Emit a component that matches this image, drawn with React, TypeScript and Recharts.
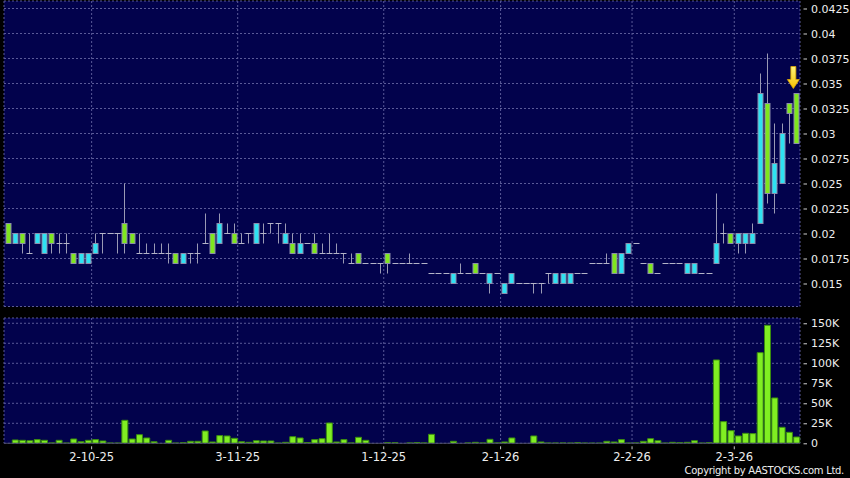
import React from "react";
import {
  ComposedChart, BarChart, Bar, XAxis, YAxis, CartesianGrid, ReferenceDot
} from "recharts";

// daily candles, oldest first (HK$)
const opens = [
  0.021, 0.019, 0.020, 0.018, 0.019, 0.018, 0.020, 0.019, 0.019, 0.018,
  0.017, 0.017, 0.018, 0.020, 0.020, 0.020, 0.021, 0.020, 0.018, 0.018,
  0.018, 0.018, 0.018, 0.018, 0.017, 0.018, 0.018, 0.019, 0.020, 0.019,
  0.020, 0.020, 0.019, 0.020, 0.019, 0.020, 0.021, 0.021, 0.019, 0.019,
  0.018, 0.019, 0.019, 0.018, 0.018, 0.018, 0.018, 0.017, 0.018, 0.017,
  0.017, 0.017, 0.018, 0.017, 0.017, 0.017, 0.017, 0.017, 0.016, 0.016,
  0.016, 0.015, 0.016, 0.016, 0.017, 0.016, 0.015, 0.016, 0.014, 0.015,
  0.015, 0.015, 0.015, 0.015, 0.016, 0.015, 0.015, 0.015, 0.016, 0.016,
  0.017, 0.017, 0.017, 0.018, 0.016, 0.018, 0.019, 0.017, 0.017, 0.016,
  0.017, 0.017, 0.017, 0.016, 0.016, 0.016, 0.016, 0.017, 0.020, 0.020,
  0.019, 0.019, 0.019, 0.021, 0.033, 0.024, 0.025, 0.033, 0.034,
];
const closes = [
  0.019, 0.020, 0.019, 0.018, 0.020, 0.020, 0.019, 0.019, 0.019, 0.017,
  0.018, 0.018, 0.019, 0.020, 0.020, 0.020, 0.019, 0.019, 0.018, 0.018,
  0.018, 0.018, 0.018, 0.017, 0.018, 0.018, 0.018, 0.019, 0.018, 0.021,
  0.020, 0.019, 0.019, 0.020, 0.021, 0.020, 0.021, 0.021, 0.020, 0.018,
  0.019, 0.019, 0.018, 0.018, 0.018, 0.018, 0.018, 0.017, 0.017, 0.017,
  0.017, 0.017, 0.017, 0.017, 0.017, 0.017, 0.017, 0.017, 0.016, 0.016,
  0.016, 0.016, 0.016, 0.016, 0.016, 0.016, 0.016, 0.016, 0.015, 0.016,
  0.015, 0.015, 0.015, 0.015, 0.016, 0.016, 0.016, 0.016, 0.016, 0.016,
  0.017, 0.017, 0.017, 0.016, 0.018, 0.019, 0.019, 0.017, 0.016, 0.016,
  0.017, 0.017, 0.017, 0.017, 0.017, 0.016, 0.016, 0.019, 0.020, 0.019,
  0.020, 0.020, 0.020, 0.034, 0.024, 0.027, 0.030, 0.032, 0.029,
];
const highs = [
  0.021, 0.020, 0.020, 0.020, 0.020, 0.020, 0.020, 0.020, 0.020, 0.018,
  0.018, 0.018, 0.020, 0.020, 0.020, 0.020, 0.025, 0.020, 0.020, 0.019,
  0.019, 0.019, 0.019, 0.018, 0.018, 0.018, 0.019, 0.022, 0.020, 0.022,
  0.021, 0.021, 0.020, 0.020, 0.021, 0.021, 0.021, 0.021, 0.021, 0.020,
  0.020, 0.019, 0.020, 0.019, 0.020, 0.019, 0.018, 0.018, 0.018, 0.017,
  0.017, 0.017, 0.018, 0.017, 0.017, 0.018, 0.017, 0.017, 0.016, 0.016,
  0.016, 0.016, 0.017, 0.016, 0.017, 0.016, 0.016, 0.016, 0.015, 0.016,
  0.015, 0.015, 0.015, 0.015, 0.016, 0.016, 0.016, 0.016, 0.016, 0.016,
  0.017, 0.017, 0.018, 0.018, 0.018, 0.019, 0.019, 0.017, 0.017, 0.016,
  0.017, 0.017, 0.017, 0.017, 0.017, 0.016, 0.016, 0.024, 0.021, 0.020,
  0.020, 0.020, 0.021, 0.036, 0.038, 0.031, 0.031, 0.033, 0.034,
];
const lows = [
  0.019, 0.019, 0.018, 0.018, 0.019, 0.018, 0.018, 0.018, 0.018, 0.017,
  0.017, 0.017, 0.018, 0.018, 0.020, 0.018, 0.018, 0.019, 0.018, 0.018,
  0.018, 0.018, 0.017, 0.017, 0.017, 0.017, 0.017, 0.019, 0.018, 0.019,
  0.020, 0.019, 0.019, 0.019, 0.019, 0.019, 0.020, 0.019, 0.019, 0.018,
  0.018, 0.019, 0.018, 0.018, 0.018, 0.018, 0.017, 0.017, 0.017, 0.017,
  0.017, 0.016, 0.016, 0.017, 0.017, 0.017, 0.017, 0.017, 0.016, 0.016,
  0.016, 0.015, 0.016, 0.016, 0.016, 0.016, 0.014, 0.016, 0.014, 0.015,
  0.015, 0.015, 0.014, 0.014, 0.015, 0.015, 0.015, 0.015, 0.016, 0.016,
  0.017, 0.017, 0.017, 0.016, 0.016, 0.018, 0.019, 0.017, 0.016, 0.016,
  0.017, 0.017, 0.017, 0.016, 0.016, 0.016, 0.016, 0.017, 0.019, 0.019,
  0.018, 0.018, 0.019, 0.021, 0.023, 0.022, 0.025, 0.029, 0.029,
];
// shares traded, thousands
const volumesK = [
  0, 4.2, 3.75, 3.3, 4.6, 3.75, 0.5, 3.75, 0.3, 5.4,
  2, 3.75, 4.6, 2.9, 0.4, 0.3, 28.75, 5.4, 10.8, 6.7,
  2, 0, 3.75, 0.3, 0.8, 2.5, 2.5, 15.4, 1.7, 9.6,
  9.2, 6.25, 2, 1.25, 3.3, 2.9, 2.9, 0.3, 1.25, 8.3,
  6.7, 1, 4.6, 5.8, 25.4, 1.7, 4.6, 0.5, 7.5, 3.75,
  0, 0, 0.8, 0.8, 0, 0.5, 1, 0.5, 11.25, 0,
  0, 2.5, 0, 0.5, 1.25, 0.5, 5, 0.5, 1.7, 6.7,
  0, 0, 9.2, 1.7, 0.4, 0.4, 0.5, 0.3, 0.8, 0.3,
  0.2, 0.2, 2.5, 1.7, 4.6, 0.3, 0.5, 2.5, 5.8, 3.3,
  0.3, 1.25, 0.8, 1.25, 3.3, 0.3, 0.8, 104.2, 27.1, 15.8,
  9.2, 12.5, 12.1, 113.3, 147.5, 56.7, 20, 13.75, 7.9,
];

const priceTicks = [0.015, 0.0175, 0.02, 0.0225, 0.025, 0.0275, 0.03, 0.0325, 0.035, 0.0375, 0.04, 0.0425];
const volumeTicks = [0, 25000, 50000, 75000, 100000, 125000, 150000];
const dateTicks = [12, 32, 52, 68, 86, 100];
const dateLabels = ["2-10-25", "3-11-25", "1-12-25", "2-1-26", "2-2-26", "2-3-26"];
const arrowPrice = 0.0356;

const data = opens.map((o, i) => ({
  x: i + 0.5,
  open: o,
  close: closes[i],
  high: highs[i],
  low: lows[i],
  volume: volumesK[i] * 1000,
}));

const FONT = "DejaVu Sans";
const GRID = "#5a5a98";
const BG = "#02024c";
const UP = "#2ee2f2";
const DOWN = "#7fe61e";

function Candle(props: any) {
  const { x, y, width, height, payload } = props;
  const { open, close, high, low } = payload;
  const top = Math.min(y, y + height);
  const h = Math.abs(height);
  const span = high - low;
  const toY = (v: number) => (span > 0 ? top + ((high - v) / span) * h : top);
  const cx = Math.round(x + width / 2) + 0.5;
  const w = 5;
  const wick = span > 0 ? (
    <line x1={cx} x2={cx} y1={toY(high)} y2={toY(low)} stroke="#9a9ab4" strokeWidth={1} />
  ) : null;
  if (open === close) {
    return (
      <g>
        {wick}
        <line x1={cx - w / 2 - 0.5} x2={cx + w / 2 + 0.5} y1={toY(open)} y2={toY(open)} stroke="#b4b4c8" strokeWidth={1} />
      </g>
    );
  }
  const bTop = toY(Math.max(open, close));
  const bBot = toY(Math.min(open, close));
  return (
    <g>
      {wick}
      <rect
        x={cx - w / 2}
        y={bTop}
        width={w}
        height={bBot - bTop}
        fill={close > open ? UP : DOWN}
        stroke="#8c8cac"
        strokeWidth={1}
      />
    </g>
  );
}

function RightTick(props: any) {
  const { x, y, payload, fmt } = props;
  return (
    <g>
      <line x1={x + 3.5} x2={x + 7} y1={y + 0.5} y2={y + 0.5} stroke="#d0d0d0" />
      <text x={x + 11} y={y + 4} fill="#eeeeee" fontSize={11} fontFamily={FONT}>
        {fmt(payload.value)}
      </text>
    </g>
  );
}

function DateTick(props: any) {
  const { x, y, payload } = props;
  const idx = dateTicks.indexOf(payload.value);
  return (
    <g>
      <line x1={x} x2={x} y1={y + 3} y2={y + 6} stroke="#c8c8c8" />
      <text x={x} y={y + 18} textAnchor="middle" fill="#eeeeee" fontSize={11.5} fontFamily={FONT}>
        {dateLabels[idx]}
      </text>
    </g>
  );
}

function Arrow(props: any) {
  const { cx, cy } = props;
  const ax = cx - 3;
  return (
    <g>
      <defs>
        <linearGradient id="arrowFill" x1="0" y1="0" x2="0" y2="1">
          <stop offset="0%" stopColor="#fff47a" />
          <stop offset="100%" stopColor="#f6c000" />
        </linearGradient>
      </defs>
      <path
        d={`M${ax - 2.5},${cy - 11} L${ax + 2.5},${cy - 11} L${ax + 2.5},${cy + 2} L${ax + 6},${cy + 2} L${ax},${cy + 11} L${ax - 6},${cy + 2} L${ax - 2.5},${cy + 2} Z`}
        fill="url(#arrowFill)"
        stroke="#e0a800"
        strokeWidth={0.8}
      />
    </g>
  );
}

const priceFmt = (v: number) => String(v);
const volFmt = (v: number) => (v === 0 ? "0" : `${v / 1000}K`);

export default function App() {
  return (
    <div style={{ position: "absolute", left: 0, top: 0, width: 850, height: 478, background: "#000" }}>
      <div style={{ position: "absolute", left: 0, top: 0 }}>
        <ComposedChart width={850} height={307} data={data} margin={{ top: 1, right: 0, bottom: 0.5, left: 4 }}>
          <CartesianGrid fill={BG} stroke={GRID} strokeDasharray="2 2" />
          <XAxis type="number" dataKey="x" domain={[0, 109]} ticks={dateTicks} interval={0} hide />
          <YAxis
            orientation="right"
            width={50}
            domain={[0.0127, 0.04325]}
            allowDataOverflow
            ticks={priceTicks}
            interval={0}
            axisLine={false}
            tickLine={false}
            tickSize={0}
            tickMargin={0}
            tick={<RightTick fmt={priceFmt} />}
          />
          <Bar
            dataKey={(d: any) => [d.low, d.high]}
            barSize={5}
            shape={(p: any) => <Candle {...p} />}
            isAnimationActive={false}
          />
          <ReferenceDot
            x={data[data.length - 1].x}
            y={arrowPrice}
            r={0}
            shape={(p: any) => <Arrow {...p} />}
          />
        </ComposedChart>
      </div>
      <div style={{ position: "absolute", left: 0, top: 307 }}>
        <BarChart width={850} height={171} data={data} margin={{ top: 11, right: 0, bottom: 0, left: 4 }}>
          <CartesianGrid fill={BG} stroke={GRID} strokeDasharray="2 2" />
          <XAxis
            type="number"
            dataKey="x"
            domain={[0, 109]}
            ticks={dateTicks}
            interval={0}
            height={34.7}
            axisLine={{ stroke: "#4a4a66" }}
            tickLine={false}
            tickSize={0}
            tickMargin={0}
            tick={<DateTick />}
          />
          <YAxis
            orientation="right"
            width={50}
            domain={[0, 156600]}
            allowDataOverflow
            ticks={volumeTicks}
            interval={0}
            axisLine={false}
            tickLine={false}
            tickSize={0}
            tickMargin={0}
            tick={<RightTick fmt={volFmt} />}
          />
          <Bar dataKey="volume" barSize={6} fill="#80ee22" stroke="#3a8c10" strokeWidth={1} isAnimationActive={false} />
        </BarChart>
      </div>
      <div
        style={{
          position: "absolute",
          right: 6,
          top: 465,
          lineHeight: "11px",
          color: "#eeeeee",
          fontFamily: FONT,
          fontSize: 10,
          letterSpacing: "-0.3px",
          whiteSpace: "nowrap",
        }}
      >
        Copyright by AASTOCKS.com Ltd.
      </div>
    </div>
  );
}
